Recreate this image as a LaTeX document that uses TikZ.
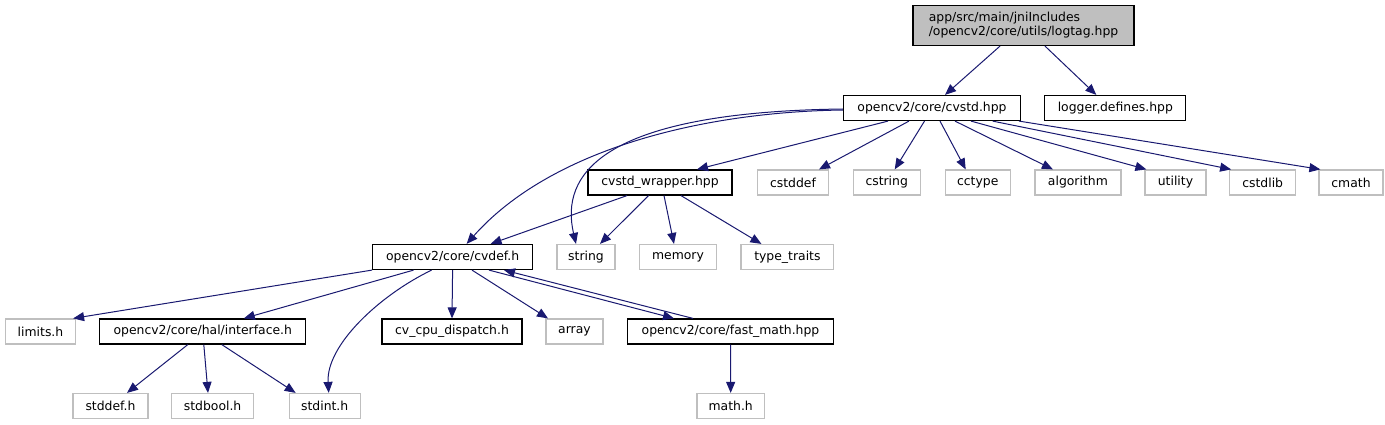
\documentclass[tikz,border=0pt]{standalone}
\usepackage{fontspec}
\setmainfont{DejaVu Sans}
\usepackage{tikz}
\usetikzlibrary{arrows.meta, positioning, calc}
\usepackage{xcolor}
\definecolor{edgecolor}{RGB}{25,25,112}
\definecolor{extcolor}{RGB}{191,191,191}
\definecolor{rootcolor}{RGB}{191,191,191}

\begin{document}
\begin{tikzpicture}[
    x=1pt, y=-1pt,
    file/.style={rectangle, draw=black, line width=1.2pt, fill=white, minimum height=25pt, inner sep=0pt, font=\fontsize{12.4}{14}\selectfont},
    ext/.style={file, draw=extcolor},
    root/.style={file, fill=rootcolor, minimum height=40pt, align=left},
    dep/.style={-{Triangle[length=11pt, width=9pt]}, draw=edgecolor, line width=1pt}
]
\useasboundingbox (0,0) rectangle (1385,425);

% Files
\node[root, minimum width=221pt] (logtag) at (1023.5,25.5) {app/src/main/jniIncludes\\/opencv2/core/utils/logtag.hpp};
\node[file, minimum width=177pt] (cvstd) at (932,108) {opencv2/core/cvstd.hpp};
\node[file, minimum width=141pt] (logger) at (1115.3,108) {logger.defines.hpp};
\node[file, minimum width=144pt] (wrapper) at (660,182.5) {cvstd\_wrapper.hpp};
\node[ext, minimum width=71pt] (cstddef) at (793,182.5) {cstddef};
\node[ext, minimum width=67pt] (cstring) at (886.7,182.5) {cstring};
\node[ext, minimum width=65pt] (cctype) at (977.7,182.5) {cctype};
\node[ext, minimum width=86pt] (algorithm) at (1077.9,182.5) {algorithm};
\node[ext, minimum width=61pt] (utility) at (1175.5,182.5) {utility};
\node[ext, minimum width=66pt] (cstdlib) at (1262.7,182.5) {cstdlib};
\node[ext, minimum width=64pt] (cmath) at (1351,182.5) {cmath};
\node[file, minimum width=160pt] (cvdef) at (452.6,257) {opencv2/core/cvdef.h};
\node[ext, minimum width=58pt] (string) at (586,257) {string};
\node[ext, minimum width=77.5pt] (memory) at (678,257) {memory};
\node[ext, minimum width=92.7pt] (typetraits) at (787.4,257) {type\_traits};
\node[ext, minimum width=70pt] (limits) at (40.5,331.5) {limits.h};
\node[file, minimum width=206pt] (interface) at (202.8,331.5) {opencv2/core/hal/interface.h};
\node[file, minimum width=140pt] (cpudispatch) at (452,331.5) {cv\_cpu\_dispatch.h};
\node[ext, minimum width=57pt] (array) at (574.5,331.5) {array};
\node[file, minimum width=206pt] (fastmath) at (730.5,331.5) {opencv2/core/fast\_math.hpp};
\node[ext, minimum width=75pt] (stddef) at (110.5,406) {stddef.h};
\node[ext, minimum width=82pt] (stdbool) at (212.6,406) {stdbool.h};
\node[ext, minimum width=71pt] (stdint) at (324.7,406) {stdint.h};
\node[ext, minimum width=67.5pt] (math) at (730.7,406) {math.h};

% Includes
\draw[dep] ([xshift=-23.5pt]logtag.south) -- ([xshift=13pt]cvstd.north);
\draw[dep] ([xshift=21.5pt]logtag.south) -- ([xshift=-19pt]logger.north);
\draw[dep] ([xshift=-44pt]cvstd.south) -- ([xshift=37pt]wrapper.north);
\draw[dep] ([xshift=-23pt]cvstd.south) -- ([xshift=26pt]cstddef.north);
\draw[dep] ([xshift=-7.5pt]cvstd.south) -- ([xshift=8pt]cstring.north);
\draw[dep] ([xshift=8pt]cvstd.south) -- ([xshift=-12pt]cctype.north);
\draw[dep] ([xshift=23pt]cvstd.south) -- ([xshift=-25pt]algorithm.north);
\draw[dep] ([xshift=39pt]cvstd.south) -- ([xshift=2pt]utility.north west);
\draw[dep] ([xshift=60.6pt]cvstd.south) -- ([xshift=2pt]cstdlib.north west);
\draw[dep] ([xshift=87pt]cvstd.south) -- ([xshift=2pt]cmath.north west);
\draw[dep] ([yshift=-2pt]cvstd.west) .. controls (700,112) and (550,150) .. ([xshift=14pt]cvdef.north);
\draw[dep] ([yshift=-1pt]cvstd.west) .. controls (600,112) and (560,175) .. ([xshift=-10pt]string.north);
\draw[dep] ([xshift=-33pt]wrapper.south) -- ([xshift=38pt]cvdef.north);
\draw[dep] ([xshift=-11.4pt]wrapper.south) -- ([xshift=14pt]string.north);
\draw[dep] ([xshift=4pt]wrapper.south) -- ([xshift=-4pt]memory.north);
\draw[dep] ([xshift=21pt]wrapper.south) -- ([xshift=-26pt]typetraits.north);
\draw[dep] (cvdef.south west) -- ([xshift=-3pt]limits.north east);
\draw[dep] ([xshift=-39pt]cvdef.south) -- ([xshift=41pt]interface.north);
\draw[dep] ([xshift=-21pt]cvdef.south) .. controls (380,295) and (326,345) .. ([xshift=4pt]stdint.north);
\draw[dep] (cvdef.south) -- (cpudispatch.north);
\draw[dep] ([xshift=19.4pt]cvdef.south) -- ([xshift=-26.5pt]array.north);
\draw[dep] ([xshift=36.4pt]cvdef.south) -- ([xshift=-56.5pt]fastmath.north);
\draw[dep] ([xshift=-37.5pt]fastmath.north) -- ([xshift=51.4pt]cvdef.south);
\draw[dep] ([xshift=-15pt]interface.south) -- ([xshift=16.5pt]stddef.north);
\draw[dep] ([xshift=1pt]interface.south) -- ([xshift=-4.6pt]stdbool.north);
\draw[dep] ([xshift=19pt]interface.south) -- ([xshift=-29pt]stdint.north);
\draw[dep] (fastmath.south) -- (math.north);

\end{tikzpicture}
\end{document}
